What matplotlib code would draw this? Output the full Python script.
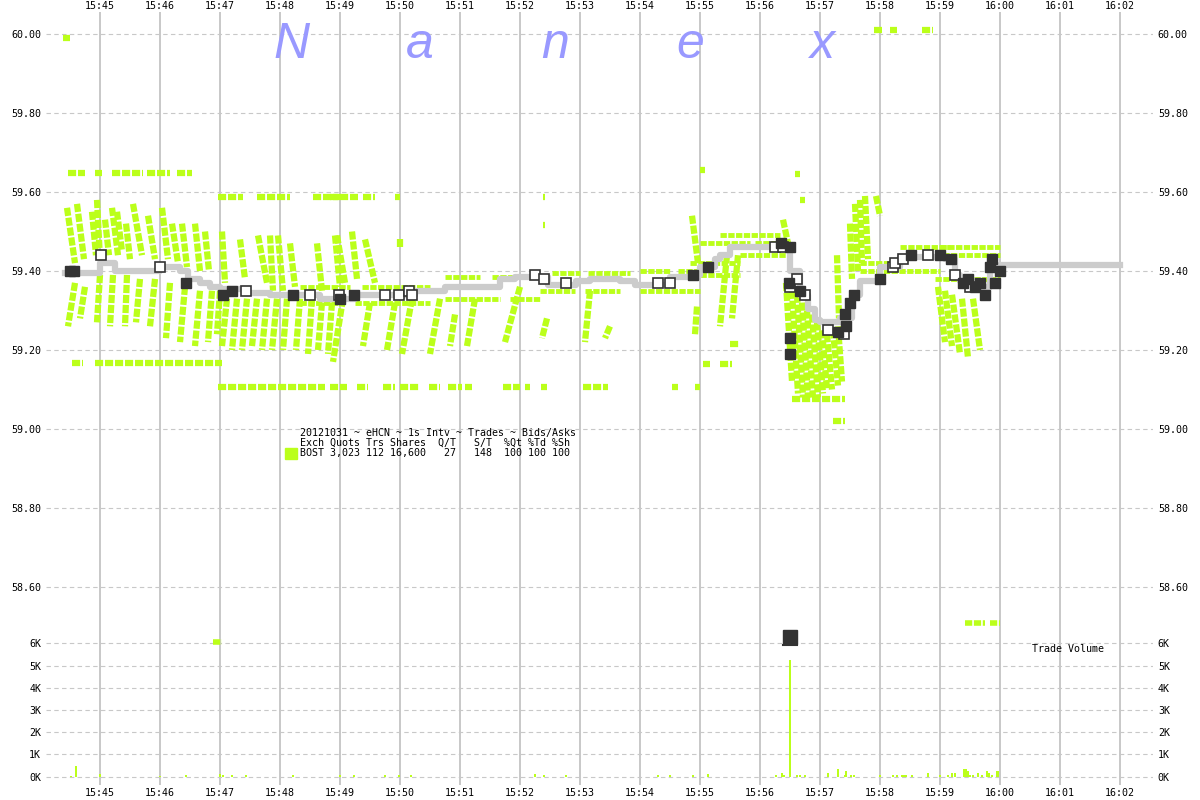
import matplotlib
matplotlib.use("Agg")
import matplotlib.pyplot as plt

# time axis: seconds after 15:45:00
time_ticks = [0, 60, 120, 180, 240, 300, 360, 420, 480, 540, 600, 660, 720, 780, 840, 900, 960, 1020]
time_labels = ["15:45", "15:46", "15:47", "15:48", "15:49", "15:50", "15:51", "15:52", "15:53",
               "15:54", "15:55", "15:56", "15:57", "15:58", "15:59", "16:00", "16:01", "16:02"]
price_ticks = [58.6, 58.8, 59.0, 59.2, 59.4, 59.6, 59.8, 60.0]
vol_ticks = [0, 1, 2, 3, 4, 5, 6]
vol_labels = ["0K", "1K", "2K", "3K", "4K", "5K", "6K"]

# trade price (gray step line)
step_t = [-35, 0, 15, 45, 60, 80, 88, 100, 110, 120, 145, 170, 220, 240, 255, 315, 345, 400, 415,
          448, 476, 490, 520, 535, 570, 593, 600, 615, 620, 630, 690, 700, 708, 715, 720, 740, 752,
          760, 780, 800, 845, 855, 860, 880, 890, 900, 1020]
step_p = [59.395, 59.42, 59.40, 59.40, 59.41, 59.40, 59.38, 59.37, 59.36, 59.355, 59.345, 59.34,
          59.33, 59.33, 59.34, 59.35, 59.36, 59.38, 59.385, 59.365, 59.375, 59.38, 59.375, 59.365,
          59.385, 59.39, 59.41, 59.43, 59.44, 59.46, 59.40, 59.34, 59.305, 59.275, 59.27, 59.28,
          59.34, 59.375, 59.41, 59.435, 59.43, 59.39, 59.375, 59.36, 59.41, 59.415, 59.415]

# trades: black = filled, white = open
black_t = [-30, -26, 86, 123, 132, 193, 240, 254, 593, 608, 681, 690, 689, 700, 690, 690, 738,
           745, 746, 750, 754, 780, 811, 840, 851, 863, 868, 875, 880, 885, 890, 892, 895, 900]
black_p = [59.40, 59.40, 59.37, 59.34, 59.35, 59.34, 59.33, 59.34, 59.39, 59.41, 59.47, 59.46,
           59.37, 59.35, 59.23, 59.19, 59.245, 59.29, 59.26, 59.32, 59.34, 59.38, 59.44, 59.44,
           59.43, 59.37, 59.38, 59.36, 59.37, 59.34, 59.41, 59.43, 59.37, 59.40]
white_t = [1, 60, 146, 210, 239, 285, 299, 309, 312, 435, 444, 466, 558, 570, 675, 683, 690, 697,
           705, 728, 744, 793, 795, 803, 828, 855, 870]
white_p = [59.44, 59.41, 59.35, 59.34, 59.34, 59.34, 59.34, 59.35, 59.34, 59.39, 59.38, 59.37,
           59.37, 59.37, 59.46, 59.46, 59.36, 59.38, 59.34, 59.25, 59.24, 59.41, 59.42, 59.43,
           59.44, 59.39, 59.36]

# quote streaks (t0, p0, t1, p1)
ask_streaks = [(-33, 59.56, -25, 59.42), (-23, 59.57, -16, 59.43), (-8, 59.55, -4, 59.44),
               (-3, 59.58, 0, 59.43), (5, 59.53, 9, 59.44), (12, 59.56, 18, 59.44),
               (17, 59.55, 22, 59.45), (26, 59.52, 30, 59.43), (33, 59.57, 42, 59.44),
               (48, 59.54, 55, 59.43), (62, 59.56, 68, 59.43), (72, 59.52, 78, 59.42),
               (82, 59.52, 87, 59.41), (95, 59.52, 100, 59.40), (105, 59.50, 109, 59.40),
               (122, 59.50, 125, 59.37), (140, 59.48, 145, 59.38), (158, 59.49, 167, 59.37),
               (170, 59.49, 173, 59.35), (178, 59.49, 183, 59.35), (190, 59.47, 195, 59.36),
               (217, 59.47, 222, 59.35), (235, 59.49, 240, 59.36), (237, 59.49, 245, 59.37),
               (252, 59.50, 257, 59.38), (265, 59.48, 275, 59.37), (300, 59.48, 300, 59.46),
               (592, 59.54, 598, 59.42), (737, 59.44, 739, 59.28), (750, 59.52, 752, 59.38),
               (755, 59.57, 758, 59.40), (760, 59.58, 762, 59.42), (765, 59.59, 768, 59.43),
               (776, 59.59, 780, 59.54), (683, 59.53, 688, 59.47)]
bid_streaks = [(-25, 59.37, -32, 59.26), (-15, 59.36, -20, 59.28), (0, 59.39, -3, 59.27),
               (13, 59.39, 10, 59.26), (27, 59.39, 25, 59.26), (40, 59.38, 36, 59.27),
               (55, 59.38, 50, 59.26), (70, 59.37, 66, 59.23), (85, 59.36, 80, 59.22),
               (100, 59.35, 95, 59.21), (112, 59.35, 108, 59.22), (120, 59.35, 117, 59.24),
               (127, 59.33, 122, 59.21), (137, 59.33, 132, 59.20), (147, 59.33, 142, 59.20),
               (157, 59.33, 152, 59.21), (167, 59.33, 162, 59.20), (177, 59.33, 172, 59.20),
               (187, 59.33, 183, 59.20), (200, 59.33, 196, 59.20), (212, 59.33, 208, 59.19),
               (222, 59.32, 218, 59.20), (232, 59.32, 228, 59.19), (243, 59.33, 233, 59.17),
               (270, 59.32, 263, 59.21), (295, 59.32, 287, 59.20), (312, 59.33, 302, 59.19),
               (340, 59.33, 330, 59.19), (355, 59.29, 350, 59.21), (375, 59.33, 367, 59.21),
               (420, 59.36, 405, 59.22), (447, 59.28, 442, 59.23), (490, 59.35, 485, 59.22),
               (510, 59.26, 505, 59.23), (597, 59.31, 595, 59.24), (627, 59.44, 620, 59.26),
               (638, 59.44, 632, 59.28), (686, 59.37, 692, 59.12), (692, 59.35, 698, 59.09),
               (697, 59.34, 703, 59.08), (702, 59.32, 708, 59.08), (707, 59.30, 713, 59.08),
               (712, 59.29, 718, 59.08), (717, 59.27, 723, 59.09), (722, 59.25, 727, 59.10),
               (727, 59.24, 732, 59.10), (733, 59.25, 738, 59.11), (738, 59.26, 742, 59.12),
               (838, 59.36, 845, 59.22), (845, 59.35, 852, 59.21), (852, 59.34, 860, 59.19),
               (862, 59.33, 868, 59.18), (873, 59.33, 880, 59.20)]

# horizontal quote rows (t0, t1, p)
quote_rows = [(-32, -15, 59.648), (-5, 2, 59.648), (12, 43, 59.648), (47, 70, 59.648), (77, 92, 59.648),
              (118, 143, 59.587), (157, 190, 59.587), (213, 240, 59.587), (230, 258, 59.587),
              (263, 275, 59.587), (295, 300, 59.587), (443, 445, 59.587), (443, 445, 59.516),
              (-28, -17, 59.167), (-5, 122, 59.167),
              (118, 225, 59.106), (230, 247, 59.106), (257, 268, 59.106), (283, 295, 59.106),
              (300, 320, 59.106), (329, 340, 59.106), (348, 362, 59.106), (365, 372, 59.106),
              (403, 420, 59.106), (425, 430, 59.106), (441, 447, 59.106), (483, 508, 59.106),
              (572, 578, 59.106), (595, 600, 59.106), (603, 610, 59.165), (620, 632, 59.165),
              (630, 640, 59.215), (600, 605, 59.655), (695, 700, 59.645), (700, 705, 59.58),
              (692, 745, 59.075), (733, 745, 59.02),
              (774, 782, 60.01), (790, 797, 60.01), (822, 833, 60.01), (-37, -30, 59.99)]
# quote bands hugging the trade price (t0, t1, p)
quote_bands = [(200, 250, 59.36), (262, 330, 59.36), (345, 380, 59.385), (392, 440, 59.385),
               (452, 480, 59.395), (488, 530, 59.395), (540, 570, 59.40), (578, 600, 59.40),
               (590, 640, 59.42), (600, 650, 59.47), (655, 690, 59.47), (620, 680, 59.49),
               (760, 800, 59.42), (800, 850, 59.46), (835, 900, 59.44), (200, 240, 59.32),
               (255, 330, 59.32), (345, 400, 59.33), (410, 440, 59.33), (440, 475, 59.35),
               (485, 520, 59.35), (540, 600, 59.35), (600, 640, 59.39), (640, 690, 59.44),
               (760, 840, 59.40), (835, 900, 59.38), (840, 900, 59.46)]

# trade volume (thousands of shares)
vol_t = [-29, -24, 0, 60, 86, 120, 123, 132, 146, 193, 240, 254, 285, 299, 311, 435, 444, 466,
         558, 570, 593, 608, 676, 682, 684, 690, 697, 700, 705, 728, 738, 745, 746, 751, 754, 780,
         793, 797, 802, 804, 806, 812, 828, 840, 848, 852, 855, 864, 866, 868, 870, 873, 878, 882,
         887, 889, 892, 897, 898]
vol_k = [0.05, 0.48, 0.1, 0.05, 0.08, 0.1, 0.07, 0.07, 0.07, 0.07, 0.08, 0.07, 0.07, 0.07, 0.07,
         0.12, 0.07, 0.07, 0.07, 0.07, 0.08, 0.1, 0.07, 0.17, 0.07, 5.25, 0.07, 0.07, 0.07, 0.17,
         0.35, 0.07, 0.25, 0.07, 0.07, 0.07, 0.07, 0.07, 0.07, 0.07, 0.07, 0.07, 0.17, 0.07, 0.07,
         0.17, 0.17, 0.35, 0.35, 0.25, 0.07, 0.07, 0.17, 0.07, 0.25, 0.17, 0.07, 0.25, 0.25]
vol_rows = [(113, 122, 6.05), (865, 885, 6.9), (890, 900, 6.9)]

legend_lines = ["20121031 ~ eHCN ~ 1s Intv ~ Trades ~ Bids/Asks",
                "Exch Quots Trs Shares  Q/T   S/T  %Qt %Td %Sh",
                "BOST 3,023 112 16,600   27   148  100 100 100"]
watermark = ["N", "a", "n", "e", "x"]

GREEN = "#bbff1a"
GRID = "#c8c8c8"
DARK = "#333333"
MONO = "DejaVu Sans Mono"
FS = 7.2
SAW = (0, (1.3, 0.3))  # broken stroke to mimic the stacked triangle marks

fig = plt.figure(figsize=(12, 8), dpi=100)
ax = fig.add_axes([46 / 1200, 1 - 620 / 800, 1107 / 1200, 608 / 800])
axv = fig.add_axes([46 / 1200, 1 - 785 / 800, 1107 / 1200, 165 / 800], sharex=ax)

for a in (ax, axv):
    for s in a.spines.values():
        s.set_visible(False)
    a.set_xlim(-54, 1053)
    a.set_xticks(time_ticks)
    a.grid(axis="x", color=GRID, linewidth=1.4, linestyle="-")
    a.grid(axis="y", color=GRID, linewidth=0.8, linestyle=(0, (4, 3)))
    a.set_axisbelow(True)
    a.tick_params(length=0, labelsize=FS, labelleft=True, labelright=True, pad=3.5)

# price panel
ax.set_ylim(58.5165, 60.0557)
ax.set_yticks(price_ticks)
ax.set_yticklabels([f"{p:.2f}" for p in price_ticks], family=MONO)
ax.set_xticklabels(time_labels, family=MONO)
ax.tick_params(axis="x", labeltop=True, labelbottom=False, pad=1)

for t0, t1, p in quote_rows:
    ax.plot([t0, t1], [p, p], color=GREEN, lw=4.5, ls=SAW, zorder=2)
for t0, t1, p in quote_bands:
    ax.plot([t0, t1], [p, p], color=GREEN, lw=3.5, ls=SAW, zorder=2)
for t0, p0, t1, p1 in ask_streaks + bid_streaks:
    ax.plot([t0, t1], [p0, p1], color=GREEN, lw=4.5, ls=SAW, zorder=2)

ax.plot(step_t, step_p, drawstyle="steps-post", color="#cccccc", lw=4.5, zorder=3)
ax.plot(white_t, white_p, "s", ms=7, mfc="white", mec=DARK, mew=1.2, ls="none", zorder=4)
ax.plot(black_t, black_p, "s", ms=7.5, mfc=DARK, mec=DARK, ls="none", zorder=5)

# volume panel
axv.set_ylim(-0.373, 7.05)
axv.set_yticks(vol_ticks)
axv.set_yticklabels(vol_labels, family=MONO)
axv.set_xticklabels(time_labels, family=MONO)
axv.tick_params(axis="x", labeltop=False, labelbottom=True, pad=2)
axv.bar(vol_t, vol_k, width=1.6, color=GREEN, zorder=2)
for t0, t1, v in vol_rows:
    axv.plot([t0, t1], [v, v], color=GREEN, lw=4, ls=SAW, zorder=2)
axv.plot([690], [6.28], "s", ms=10, color=DARK, zorder=4)
axv.plot([683, 697], [5.93, 5.93], color=DARK, lw=1.5, zorder=4)
axv.text(932, 5.75, "Trade Volume", family=MONO, fontsize=FS, va="center")

# legend block
for i, line in enumerate(legend_lines):
    fig.text(300 / 1200, 1 - (433 + 10 * i) / 800, line, family=MONO, fontsize=FS, va="center")
fig.patches.append(plt.Rectangle((285 / 1200, 1 - 459 / 800), 12 / 1200, 11 / 800,
                                 transform=fig.transFigure, color=GREEN, figure=fig))

# Nanex watermark
for ch, xp in zip(watermark, [292, 420, 555, 690, 822]):
    fig.text(xp / 1200, 1 - 58 / 800, ch, family="Liberation Sans", style="italic",
             fontsize=36, color="#9999ff", ha="center", va="baseline")

fig.savefig("out.png", dpi=100)
